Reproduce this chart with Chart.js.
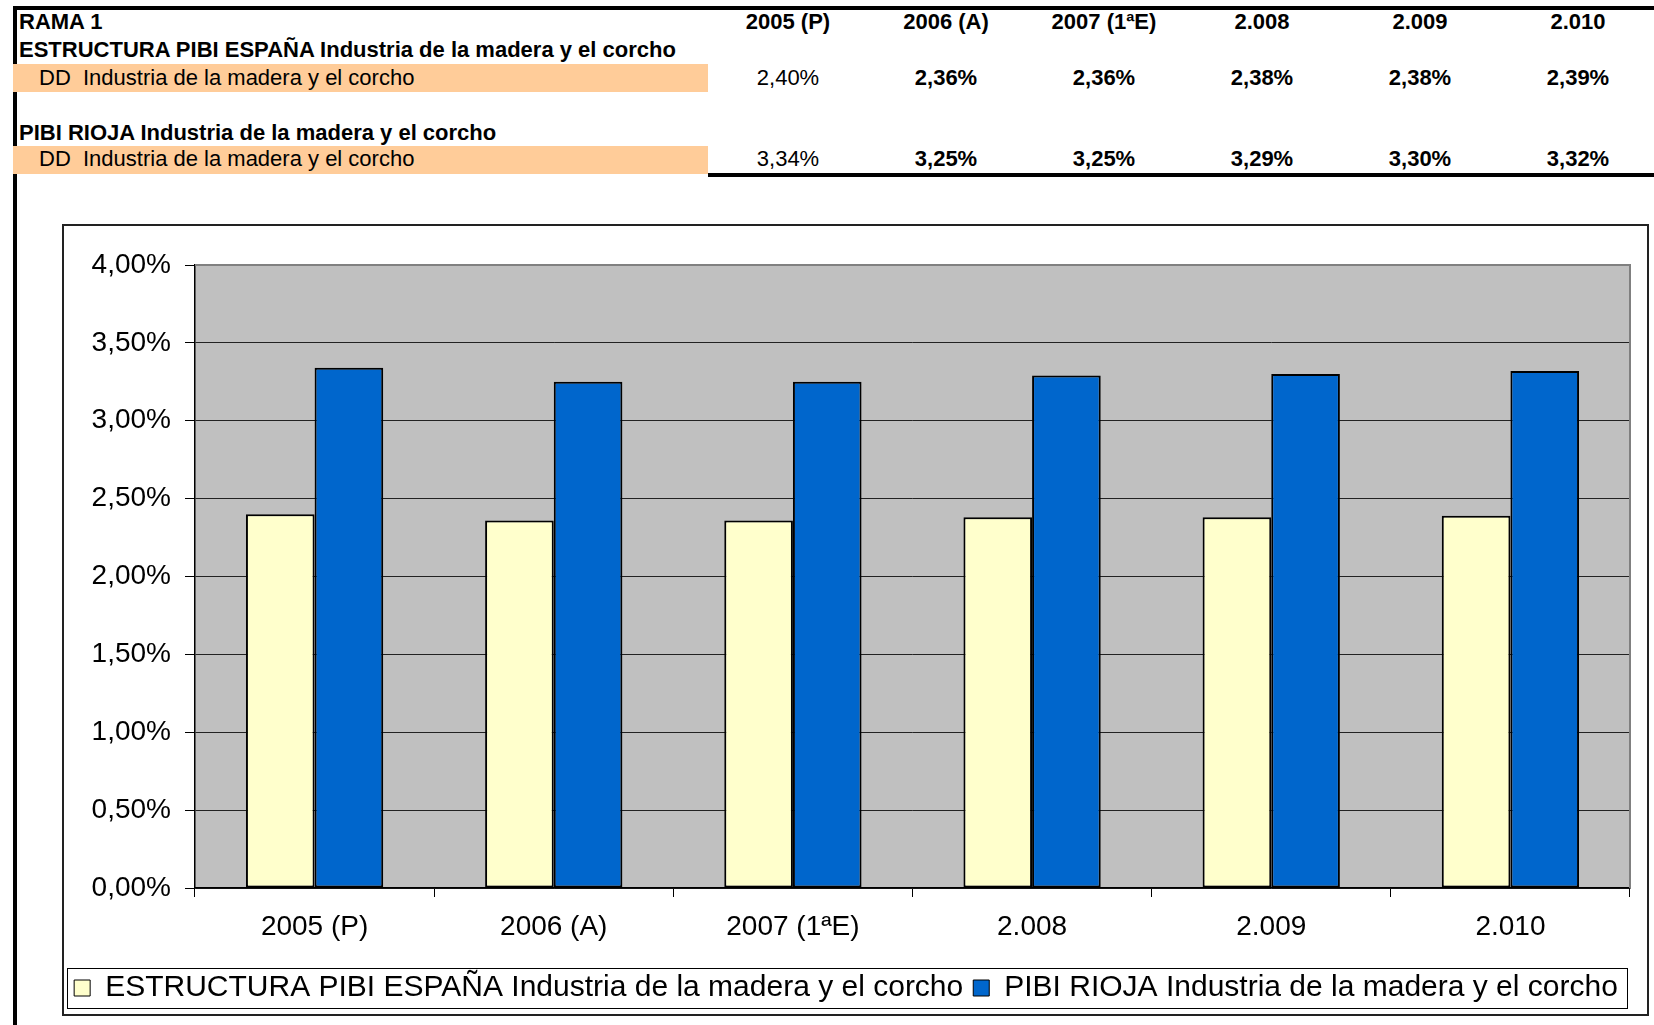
<!DOCTYPE html>
<html>
<head>
<meta charset="utf-8">
<script src="https://cdn.jsdelivr.net/npm/chart.js@4/dist/chart.umd.min.js"></script>
<style>
  body { margin: 0; width: 1654px; height: 1025px; overflow: hidden; background: #fff;
         font-family: "Liberation Sans", Arial, sans-serif; color: #000; position: relative; }
  .bar { position: absolute; background: #000; }
  .band { position: absolute; background: #FFCC99; }
  .txt { position: absolute; font-size: 22px; line-height: 28px; white-space: nowrap; }
  .b { font-weight: bold; }
  .cell { position: absolute; width: 158px; text-align: center; font-size: 22px; line-height: 28px; }
  #chartBox { position: absolute; left: 62px; top: 224px; }
</style>
</head>
<body>
<div class="bar" style="left:13px;top:6px;width:1641px;height:4px"></div>
<div class="bar" style="left:13px;top:6px;width:4px;height:1019px"></div>
<div class="band" style="left:13px;top:64px;width:695px;height:28px"></div>
<div class="band" style="left:13px;top:146px;width:695px;height:28px"></div>
<div class="bar" style="left:708px;top:173px;width:946px;height:4px"></div>

<div class="txt b" style="left:19px;top:8px">RAMA 1</div>
<div class="txt b" style="left:19px;top:36px">ESTRUCTURA PIBI ESPAÑA Industria de la madera y el corcho</div>
<div class="txt" style="left:39px;top:64px">DD&nbsp; Industria de la madera y el corcho</div>
<div class="txt b" style="left:19px;top:119px">PIBI RIOJA Industria de la madera y el corcho</div>
<div class="txt" style="left:39px;top:145px">DD&nbsp; Industria de la madera y el corcho</div>
<div id="cells"></div>

<div id="chartBox"><canvas id="rama" width="1587" height="792"></canvas></div>

<script>
// data read from the sheet
const categories = ['2005 (P)', '2006 (A)', '2007 (1ªE)', '2.008', '2.009', '2.010'];
const espana = [2.40, 2.36, 2.36, 2.38, 2.38, 2.39];
const rioja = [3.34, 3.25, 3.25, 3.29, 3.30, 3.32];
const espanaLabel = 'ESTRUCTURA PIBI ESPAÑA Industria de la madera y el corcho';
const riojaLabel = 'PIBI RIOJA Industria de la madera y el corcho';
const yMin = 0, yMax = 4, yStep = 0.5;

function pct(v) { return v.toFixed(2).replace('.', ',') + '%'; }

// table above the chart
const cells = document.getElementById('cells');
categories.forEach(function(c, i) {
  const left = 709 + i * 158;
  const rows = [[c, 8, true], [pct(espana[i]), 64, i > 0], [pct(rioja[i]), 145, i > 0]];
  rows.forEach(function(r) {
    const d = document.createElement('div');
    d.className = 'cell' + (r[2] ? ' b' : '');
    d.style.left = left + 'px';
    d.style.top = r[1] + 'px';
    d.textContent = r[0];
    cells.appendChild(d);
  });
});

const font = '"Liberation Sans", Arial, sans-serif';

const frame = {
  id: 'frame',
  beforeDraw(chart) {
    const ctx = chart.ctx, a = chart.chartArea;
    ctx.save();
    ctx.fillStyle = '#fff';
    ctx.fillRect(0, 0, chart.width, chart.height);
    ctx.fillStyle = '#C0C0C0';
    ctx.fillRect(a.left, a.top, a.right - a.left, a.bottom - a.top);
    ctx.restore();
  },
  beforeDatasetsDraw(chart) {
    const ctx = chart.ctx, a = chart.chartArea;
    ctx.save();
    ctx.strokeStyle = '#808080';
    ctx.lineWidth = 2;
    ctx.beginPath();
    ctx.moveTo(a.left, a.top);
    ctx.lineTo(a.right, a.top);
    ctx.lineTo(a.right, a.bottom);
    ctx.stroke();
    ctx.restore();
  },
  afterDraw(chart) {
    const ctx = chart.ctx;
    ctx.save();
    ctx.strokeStyle = '#222';
    ctx.lineWidth = 2;
    ctx.strokeRect(1, 1, chart.width - 2, chart.height - 2);
    // box round the legend
    const hb = chart.legend.legendHitBoxes;
    if (hb && hb.length) {
      let l = Infinity, r = -Infinity, t = Infinity, b = -Infinity;
      hb.forEach(function(h) {
        l = Math.min(l, h.left); r = Math.max(r, h.left + h.width);
        t = Math.min(t, h.top); b = Math.max(b, h.top + h.height);
      });
      ctx.strokeStyle = '#000';
      ctx.lineWidth = 1;
      ctx.strokeRect(Math.round(l - 7) + 0.5, Math.round(t - 5) + 0.5, Math.round(r - l + 16), Math.round(b - t + 10));
    }
    ctx.restore();
  }
};

new Chart(document.getElementById('rama'), {
  type: 'bar',
  data: {
    labels: categories,
    datasets: [{
      label: espanaLabel,
      data: espana,
      backgroundColor: '#FFFFCC',
      borderColor: '#000',
      borderWidth: 2,
      borderSkipped: false
    }, {
      label: riojaLabel,
      data: rioja,
      backgroundColor: '#0066CC',
      borderColor: '#000',
      borderWidth: 2,
      borderSkipped: false
    }]
  },
  options: {
    responsive: false,
    animation: false,
    events: [],
    layout: { padding: { top: 41, right: 19, left: 0, bottom: 3 } },
    datasets: { bar: { categoryPercentage: 0.574, barPercentage: 1 } },
    scales: {
      x: {
        afterFit(scale) { scale.height = 75; },
        grid: { drawOnChartArea: false, color: '#000', tickLength: 9, lineWidth: 1 },
        border: { color: '#000', width: 1.5 },
        ticks: { color: '#000', padding: 13, font: { family: font, size: 28 } }
      },
      y: {
        min: yMin,
        max: yMax,
        afterFit(scale) { scale.width = 133; },
        grid: {
          color: function(c) { return c.tick && c.tick.value === yMax ? '#808080' : '#222'; },
          tickColor: '#000',
          tickLength: 10,
          lineWidth: 1
        },
        border: { color: '#000', width: 1.5 },
        ticks: {
          stepSize: yStep,
          color: '#000',
          padding: 14,
          font: { family: font, size: 28 },
          callback: function(v) { return pct(v); }
        }
      }
    },
    plugins: {
      tooltip: { enabled: false },
      legend: {
        position: 'bottom',
        labels: {
          color: '#000',
          boxWidth: 16,
          boxHeight: 16,
          padding: 10,
          font: { family: font, size: 30 },
          generateLabels(chart) {
            const items = Chart.defaults.plugins.legend.labels.generateLabels(chart);
            items.forEach(function(it) { it.lineWidth = 1; });
            return items;
          }
        }
      }
    }
  },
  plugins: [frame]
});
</script>
</body>
</html>
